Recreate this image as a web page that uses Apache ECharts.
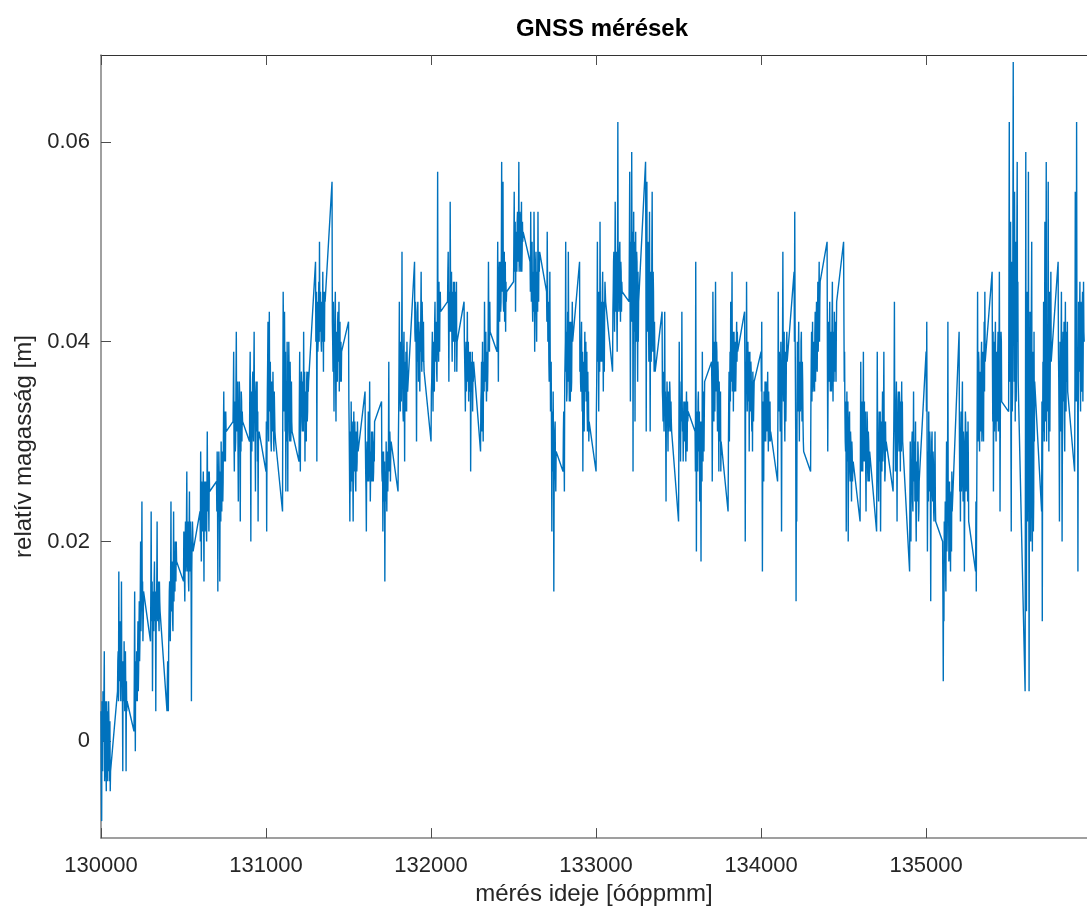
<!DOCTYPE html>
<html>
<head>
<meta charset="utf-8">
<title>GNSS mérések</title>
<script src="https://cdn.jsdelivr.net/npm/echarts@6/dist/echarts.min.js"></script>
<style>
  html, body { margin: 0; padding: 0; background: #fff; }
  #chart { width: 1087px; height: 911px; }
</style>
</head>
<body>
<div id="chart"></div>
<script>
// időbélyeg óóppmm formában: percenként 100 egység, a másodpercek 0..59
const startTime = 130000;
const seconds = [0, 2, 4, 6, 8, 10, 12, 14, 16, 18, 20, 22, 24, 26, 28,
  30, 32, 34, 36, 38, 40, 42, 44, 46, 48, 50, 52, 54, 56, 58];

// relatív magasság [mm], soronként egy perc
const h1300 = [
  [3, -4, -8, 4, 0, -3, 5, 0, 2, 5, 9, -4, -2, 3, 4, -2, -5, 4, 1, -4, 3, 0, -3, 4, 2, -4, -1, 2, -5, -3],
  [5, 8, 9, 4, 17, 7, 6, 9, 12, 5, 4, 8, 16, 6, 8, 4, -3, 8, 7, 4, 10, 6, 3, 8, 9, 5, -3, 6, 3, 4],
  [1, 7, 15, 5, -1, 8, 6, 4, 9, 6, 4, 9, 12, 5, 7, 11, 14, 8, 10, 15, 20, 11, 13, 17, 24, 13, 16, 10, 12, 15],
  [10, 15, 23, 13, 12, 16, 5, 11, 15, 13, 11, 16, 18, 12, 13, 15, 3, 11, 14, 16, 22, 13, 12, 15, 16, 12, 11, 16, 14, 13],
  [3, 6, 8, 5, 3, 9, 12, 15, 16, 12, 10, 17, 24, 13, 14, 18, 18, 12, 11, 17, 23, 14, 17, 19, 15, 20, 19, 16, 20, 18],
  [16, 21, 20, 16, 14, 20, 22, 17, 19, 22, 27, 18, 17, 22, 21, 16, 15, 21, 25, 17, 18, 22, 22, 16, 4, 17, 20, 22, 21, 19],
  [23, 20, 29, 24, 18, 26, 25, 21, 21, 25, 27, 22, 16, 26, 24, 21, 22, 26, 26, 22, 20, 25, 31, 24, 23, 27, 27, 21, 27, 25],
  [26, 23, 29, 25, 15, 27, 24, 29, 27, 22, 16, 27, 25, 22, 30, 26, 23, 29, 28, 24, 26, 31, 35, 28, 29, 33, 32, 28, 33, 31],
  [32, 35, 39, 30, 27, 34, 34, 29, 30, 36, 41, 31, 33, 35, 36, 30, 24, 33, 31, 36, 35, 29, 22, 33, 29, 35, 34, 30, 33, 32],
  [30, 36, 39, 31, 20, 33, 35, 29, 32, 36, 37, 32, 30, 37, 41, 33, 34, 30, 25, 35, 36, 32, 31, 36, 28, 33, 22, 30, 30, 31]
];
const h1310 = [
  [27, 32, 21, 30, 35, 38, 42, 33, 30, 37, 43, 34, 33, 38, 38, 30, 29, 36, 36, 32, 31, 37, 34, 30, 29, 35, 33, 31, 31, 30],
  [23, 36, 45, 40, 38, 33, 43, 37, 31, 39, 25, 33, 36, 30, 40, 35, 25, 38, 33, 40, 37, 31, 30, 38, 35, 30, 32, 36, 32, 31],
  [28, 34, 39, 31, 27, 36, 33, 37, 36, 32, 31, 36, 35, 31, 41, 34, 32, 37, 28, 35, 34, 31, 30, 36, 37, 32, 33, 37, 35, 36],
  [48, 40, 42, 45, 28, 41, 44, 39, 40, 44, 46, 40, 50, 43, 41, 45, 45, 40, 39, 44, 43, 40, 47, 42, 37, 45, 42, 40, 45, 44],
  [56, 42, 40, 37, 44, 39, 33, 41, 38, 43, 45, 36, 32, 40, 41, 37, 36, 42, 43, 38, 39, 44, 35, 40, 42, 36, 37, 40, 36, 39],
  [42, 34, 31, 27, 22, 31, 28, 25, 34, 29, 26, 32, 30, 26, 22, 30, 33, 28, 27, 32, 29, 26, 25, 31, 31, 27, 28, 32, 30, 29],
  [35, 30, 27, 25, 21, 28, 30, 27, 26, 31, 33, 26, 28, 30, 36, 29, 24, 27, 29, 26, 31, 28, 26, 31, 30, 26, 27, 30, 28, 32],
  [34, 27, 26, 29, 21, 25, 29, 26, 24, 28, 16, 25, 27, 24, 30, 26, 23, 29, 28, 25, 25, 30, 38, 28, 27, 31, 30, 26, 29, 30],
  [25, 30, 33, 38, 44, 36, 36, 33, 40, 35, 34, 39, 49, 36, 38, 33, 32, 39, 41, 35, 28, 38, 36, 33, 39, 36, 33, 40, 37, 35],
  [48, 41, 40, 44, 43, 38, 30, 39, 38, 43, 44, 40, 36, 42, 41, 38, 35, 41, 39, 43, 47, 40, 37, 44, 42, 39, 38, 42, 38, 37]
];
const h1320 = [
  [30, 35, 36, 39, 41, 37, 33, 40, 39, 36, 35, 42, 44, 39, 38, 41, 42, 37, 36, 43, 57, 41, 40, 38, 46, 42, 39, 44, 45, 43],
  [44, 47, 49, 42, 36, 44, 45, 41, 54, 46, 41, 44, 47, 41, 38, 45, 43, 40, 46, 43, 40, 46, 37, 42, 45, 40, 42, 46, 37, 40],
  [44, 40, 38, 36, 33, 38, 40, 35, 35, 39, 43, 36, 37, 40, 34, 38, 39, 35, 36, 39, 27, 34, 38, 36, 35, 39, 33, 37, 36, 38],
  [29, 34, 35, 38, 31, 36, 40, 33, 30, 37, 38, 35, 44, 39, 36, 40, 41, 36, 34, 38, 39, 35, 37, 41, 48, 42, 42, 39, 44, 41],
  [39, 44, 50, 42, 36, 45, 45, 48, 42, 46, 48, 43, 44, 49, 58, 45, 47, 50, 56, 44, 43, 48, 49, 42, 45, 48, 41, 46, 44, 45],
  [46, 50, 55, 47, 48, 52, 43, 49, 51, 48, 47, 52, 53, 48, 49, 51, 58, 47, 50, 53, 52, 48, 47, 51, 54, 47, 49, 52, 50, 51],
  [48, 45, 53, 47, 44, 49, 50, 44, 42, 46, 47, 43, 53, 48, 39, 44, 45, 48, 49, 43, 40, 47, 46, 43, 53, 46, 44, 49, 47, 49],
  [45, 42, 51, 46, 40, 44, 43, 38, 36, 42, 47, 39, 33, 36, 38, 31, 21, 33, 30, 27, 35, 30, 15, 26, 28, 31, 32, 27, 25, 29],
  [27, 31, 33, 29, 25, 36, 38, 40, 50, 37, 41, 34, 35, 39, 43, 36, 49, 41, 37, 34, 40, 42, 34, 38, 42, 35, 36, 41, 44, 40],
  [48, 37, 40, 36, 35, 40, 42, 36, 33, 39, 27, 35, 38, 34, 31, 38, 41, 35, 36, 40, 34, 38, 39, 33, 31, 37, 33, 35, 30, 32]
];
const h1330 = [
  [27, 33, 36, 41, 50, 38, 41, 45, 33, 40, 45, 37, 52, 43, 38, 44, 44, 38, 40, 45, 47, 39, 35, 44, 42, 37, 43, 46, 46, 44],
  [37, 43, 45, 48, 49, 44, 41, 47, 54, 45, 43, 49, 47, 42, 39, 48, 62, 46, 48, 43, 44, 49, 50, 45, 42, 48, 47, 43, 46, 45],
  [44, 50, 57, 45, 34, 47, 50, 42, 59, 48, 42, 51, 27, 44, 53, 41, 46, 50, 32, 45, 51, 43, 40, 49, 48, 42, 36, 47, 40, 44],
  [58, 48, 31, 45, 56, 41, 44, 50, 49, 42, 38, 47, 53, 40, 31, 44, 47, 38, 41, 49, 55, 43, 39, 47, 45, 40, 37, 42, 39, 37],
  [43, 35, 34, 32, 37, 33, 31, 36, 43, 33, 35, 31, 24, 34, 33, 36, 36, 32, 29, 35, 34, 31, 32, 36, 35, 33, 31, 34, 32, 31],
  [22, 31, 40, 34, 33, 31, 28, 33, 36, 32, 43, 34, 31, 33, 28, 31, 34, 33, 30, 34, 32, 31, 28, 33, 35, 32, 29, 34, 32, 33],
  [31, 27, 48, 33, 19, 30, 33, 28, 27, 34, 35, 30, 29, 33, 24, 31, 32, 27, 18, 32, 30, 26, 39, 31, 28, 35, 34, 29, 33, 36],
  [38, 35, 26, 33, 45, 39, 36, 32, 40, 36, 33, 39, 46, 37, 35, 40, 39, 34, 31, 38, 37, 33, 27, 36, 34, 32, 30, 35, 27, 30],
  [23, 29, 34, 37, 30, 35, 39, 34, 44, 38, 36, 41, 47, 35, 38, 41, 33, 39, 41, 36, 35, 39, 40, 35, 37, 40, 42, 38, 41, 39],
  [43, 37, 20, 33, 38, 35, 46, 38, 33, 37, 40, 34, 36, 39, 29, 36, 39, 33, 34, 38, 37, 33, 31, 36, 29, 37, 35, 32, 34, 36]
];
const h1340 = [
  [39, 35, 42, 30, 17, 28, 34, 31, 26, 35, 33, 30, 36, 33, 30, 36, 35, 31, 31, 34, 37, 32, 29, 35, 33, 30, 32, 34, 30, 31],
  [26, 33, 45, 36, 33, 39, 38, 34, 31, 37, 40, 32, 21, 33, 36, 40, 49, 38, 34, 39, 41, 33, 30, 37, 39, 32, 35, 40, 41, 38],
  [47, 40, 53, 42, 36, 30, 14, 27, 22, 33, 40, 36, 33, 39, 42, 35, 30, 37, 38, 33, 34, 40, 41, 35, 32, 38, 36, 32, 30, 29],
  [27, 34, 38, 41, 34, 39, 42, 35, 36, 40, 40, 37, 35, 41, 43, 36, 39, 42, 44, 38, 37, 42, 46, 39, 41, 45, 48, 40, 44, 46],
  [50, 38, 29, 36, 42, 37, 36, 41, 44, 38, 35, 41, 40, 35, 38, 42, 46, 37, 34, 41, 39, 36, 43, 38, 37, 42, 42, 36, 41, 44],
  [50, 42, 36, 39, 33, 30, 29, 34, 21, 30, 35, 28, 31, 34, 20, 29, 28, 32, 33, 27, 26, 31, 30, 27, 24, 30, 29, 26, 27, 28],
  [22, 29, 38, 31, 30, 27, 34, 29, 27, 33, 39, 28, 31, 34, 28, 31, 33, 27, 23, 30, 29, 33, 32, 27, 26, 31, 30, 28, 26, 29],
  [21, 28, 39, 31, 30, 26, 24, 30, 33, 29, 28, 33, 21, 27, 32, 29, 27, 32, 35, 28, 29, 33, 39, 30, 31, 26, 27, 32, 29, 30],
  [25, 29, 31, 35, 44, 31, 33, 27, 28, 34, 36, 29, 22, 32, 30, 34, 35, 30, 29, 35, 34, 31, 27, 34, 32, 29, 36, 31, 34, 30],
  [17, 25, 30, 23, 20, 28, 26, 30, 31, 24, 23, 29, 35, 26, 27, 30, 24, 28, 32, 23, 20, 27, 28, 24, 25, 30, 29, 22, 23, 26]
];
const h1350 = [
  [39, 33, 42, 30, 19, 26, 29, 24, 33, 28, 25, 31, 30, 25, 14, 24, 27, 30, 31, 25, 24, 29, 28, 23, 22, 27, 26, 31, 24, 22],
  [20, 14, 6, 18, 12, 22, 18, 20, 24, 17, 15, 25, 30, 19, 21, 27, 42, 22, 26, 18, 19, 26, 23, 20, 17, 24, 25, 19, 27, 23],
  [41, 30, 25, 28, 22, 31, 33, 25, 27, 33, 36, 27, 24, 31, 30, 26, 17, 24, 29, 33, 32, 25, 26, 30, 31, 27, 24, 32, 28, 22],
  [17, 24, 15, 22, 28, 35, 45, 30, 34, 39, 38, 31, 29, 37, 36, 33, 31, 38, 40, 30, 33, 39, 37, 32, 30, 38, 42, 35, 45, 38],
  [47, 38, 32, 41, 25, 34, 40, 31, 36, 40, 42, 33, 30, 39, 38, 32, 34, 39, 41, 31, 35, 40, 47, 36, 23, 33, 37, 41, 40, 34],
  [33, 47, 62, 36, 41, 49, 52, 30, 21, 44, 48, 33, 35, 52, 68, 40, 44, 36, 55, 42, 32, 48, 50, 34, 38, 51, 58, 40, 46, 36],
  [5, 30, 59, 26, 13, 40, 45, 22, 38, 29, 57, 32, 5, 25, 22, 43, 41, 20, 28, 44, 50, 27, 19, 39, 35, 21, 24, 41, 30, 36],
  [23, 34, 12, 29, 38, 31, 44, 36, 30, 41, 52, 32, 35, 44, 58, 30, 41, 36, 33, 43, 56, 34, 29, 42, 45, 31, 37, 42, 47, 38],
  [48, 39, 36, 31, 22, 35, 40, 33, 31, 40, 45, 34, 20, 30, 38, 41, 34, 38, 42, 32, 29, 39, 44, 35, 33, 41, 39, 36, 42, 35],
  [27, 36, 55, 42, 40, 34, 62, 41, 35, 38, 17, 33, 44, 37, 38, 42, 46, 36, 33, 44, 42, 35, 36, 43, 45, 34, 39, 46, 41, 40]
];

const xTicks = [130000, 131000, 132000, 133000, 134000, 135000];
const yTicks = [0, 0.02, 0.04, 0.06];

const font = 'Liberation Sans';
const blocks = [h1300, h1310, h1320, h1330, h1340, h1350];
const points = [];
blocks.forEach((block, b) => {
  block.forEach((row, j) => {
    const minute = b * 10 + j;
    row.forEach((mm, k) => {
      points.push([startTime + minute * 100 + seconds[k], mm / 1000]);
    });
  });
});

const myChart = echarts.init(document.getElementById('chart'));
const option = {
  animation: false,
  backgroundColor: '#ffffff',
  title: {
    text: 'GNSS mérések',
    left: 597,
    top: 12,
    textAlign: 'center',
    textStyle: { fontSize: 24, fontWeight: 'bold', color: '#000000', fontFamily: font }
  },
  grid: { left: 101, right: -7, top: 55, bottom: 69, containLabel: false },
  xAxis: [
    {
      type: 'value',
      min: 130000,
      max: 135975,
      position: 'bottom',
      axisLine: { show: true, onZero: false, lineStyle: { color: '#808080', width: 1.5 } },
      axisTick: { show: true, inside: true, length: 10, customValues: xTicks, lineStyle: { color: '#4d4d4d' } },
      axisLabel: {
        customValues: xTicks,
        formatter: (v) => String(v),
        fontSize: 22,
        color: '#262626',
        fontFamily: font,
        margin: 17
      },
      splitLine: { show: false },
      name: 'mérés ideje [óóppmm]',
      nameLocation: 'middle',
      nameGap: 42,
      nameTextStyle: { fontSize: 24, color: '#262626', fontFamily: font }
    },
    {
      type: 'value',
      min: 130000,
      max: 135975,
      position: 'top',
      axisLine: { show: true, onZero: false, lineStyle: { color: '#333333', width: 1 } },
      axisTick: { show: true, inside: true, length: 10, customValues: xTicks, lineStyle: { color: '#4d4d4d' } },
      axisLabel: { show: false },
      splitLine: { show: false }
    }
  ],
  yAxis: {
    type: 'value',
    min: -0.0097,
    max: 0.0687,
    axisLine: { show: true, onZero: false, lineStyle: { color: '#808080', width: 1.5 } },
    axisTick: { show: true, inside: true, length: 10, customValues: yTicks, lineStyle: { color: '#4d4d4d' } },
    axisLabel: {
      customValues: yTicks,
      formatter: (v) => String(v),
      fontSize: 22,
      color: '#262626',
      fontFamily: font,
      margin: 11
    },
    splitLine: { show: false },
    name: 'relatív magasság [m]',
    nameLocation: 'middle',
    nameRotate: 90,
    nameGap: 61,
    nameTextStyle: { fontSize: 24, color: '#262626', fontFamily: font }
  },
  series: [
    {
      name: 'GNSS',
      type: 'line',
      xAxisIndex: 0,
      data: points,
      showSymbol: false,
      symbol: 'none',
      sampling: null,
      clip: true,
      lineStyle: { color: '#0072BD', width: 1.4 }
    }
  ]
};
option && myChart.setOption(option);
</script>
</body>
</html>
